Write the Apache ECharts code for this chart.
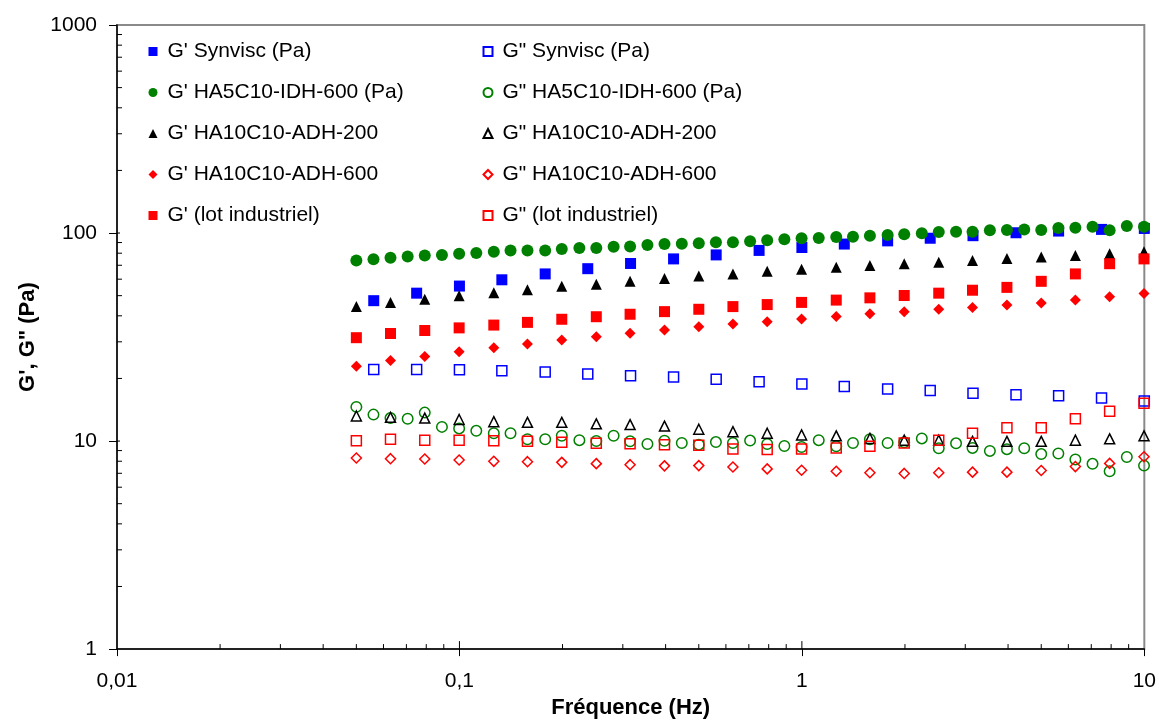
<!DOCTYPE html>
<html><head><meta charset="utf-8">
<script src="https://cdn.jsdelivr.net/npm/echarts@6/dist/echarts.min.js"></script>
<style>html,body{margin:0;padding:0;background:#fff}#chart{width:1159px;height:724px}</style>
</head><body><div id="chart"></div>
<script>
// Frequencies (Hz)
const freqSynvisc = [0.0562, 0.075, 0.1, 0.133, 0.178, 0.237, 0.316, 0.422, 0.562, 0.75, 1, 1.33, 1.78, 2.37, 3.16, 4.22, 5.62, 7.5, 10];
const freqHA5 = [0.05, 0.0561, 0.0629, 0.0706, 0.0792, 0.0889, 0.0998, 0.112, 0.126, 0.141, 0.158, 0.178, 0.199, 0.224, 0.251, 0.282, 0.315, 0.354, 0.397, 0.446, 0.5, 0.561, 0.629, 0.706, 0.792, 0.889, 0.998, 1.12, 1.26, 1.41, 1.58, 1.78, 1.99, 2.24, 2.51, 2.82, 3.15, 3.54, 3.97, 4.46, 5, 5.61, 6.29, 7.06, 7.92, 8.89, 9.98];
const freqADH = [0.05, 0.0629, 0.0792, 0.0998, 0.126, 0.158, 0.199, 0.251, 0.315, 0.397, 0.5, 0.629, 0.792, 0.998, 1.26, 1.58, 1.99, 2.51, 3.15, 3.97, 5, 6.29, 7.92, 9.98];

// G' (Pa)
const gpSynvisc = [47.3, 51.4, 55.6, 59.6, 63.6, 67.4, 71.4, 75.1, 78.5, 82.5, 85.2, 88.5, 91.7, 94.4, 97.1, 100.3, 102.2, 104.1, 105.2];
const gpHA5 = [73.8, 74.8, 76.0, 77.1, 77.9, 78.5, 79.6, 80.2, 81.3, 82.5, 82.5, 82.5, 83.8, 84.7, 84.7, 85.9, 86.2, 87.5, 88.5, 88.8, 89.4, 90.4, 90.4, 91.3, 92.4, 93.4, 94.4, 94.7, 95.7, 96.0, 97.1, 97.9, 98.6, 99.7, 101.1, 101.4, 101.4, 103.0, 103.3, 104.1, 103.3, 105.6, 105.9, 107.1, 103.0, 108.2, 107.1];
const gpADH200 = [44.4, 46.4, 48.1, 49.9, 51.7, 53.4, 55.5, 56.8, 58.6, 60.5, 62.2, 63.6, 65.5, 66.9, 68.4, 69.9, 71.2, 72.4, 73.8, 75.4, 76.8, 77.9, 79.6, 81.3];
const gpADH600 = [22.9, 24.4, 25.5, 26.9, 28.1, 29.3, 30.6, 31.7, 33.0, 34.2, 35.4, 36.5, 37.5, 38.6, 39.7, 40.9, 41.9, 43.0, 43.9, 45.1, 46.1, 47.6, 49.4, 51.2];
const gpLot = [31.4, 32.9, 34.0, 35.0, 36.1, 37.2, 38.5, 39.6, 40.7, 41.9, 43.0, 44.3, 45.3, 46.4, 47.6, 48.8, 50.1, 51.4, 53.1, 54.8, 58.6, 63.6, 71.2, 75.1];

// G" (Pa)
const gsSynvisc = [22.1, 22.1, 22.0, 21.8, 21.5, 21.0, 20.6, 20.3, 19.8, 19.3, 18.8, 18.3, 17.8, 17.5, 17.0, 16.7, 16.5, 16.1, 15.6];
const gsHA5 = [14.6, 13.4, 12.9, 12.8, 13.7, 11.7, 11.5, 11.2, 10.9, 10.9, 10.2, 10.2, 10.6, 10.1, 10.0, 10.6, 9.97, 9.68, 10.03, 9.79, 9.61, 9.89, 9.79, 10.05, 9.68, 9.47, 9.37, 10.1, 9.44, 9.79, 10.2, 9.79, 9.86, 10.3, 9.24, 9.75, 9.27, 8.97, 9.14, 9.24, 8.66, 8.71, 8.16, 7.77, 7.16, 8.38, 7.62];
const gsADH200 = [13.2, 13.0, 12.9, 12.7, 12.4, 12.3, 12.3, 12.1, 12.0, 11.8, 11.4, 11.1, 10.9, 10.7, 10.6, 10.3, 10.1, 10.1, 9.97, 9.97, 9.97, 10.1, 10.25, 10.6];
const gsADH600 = [8.29, 8.23, 8.20, 8.11, 7.99, 7.96, 7.90, 7.79, 7.70, 7.60, 7.62, 7.51, 7.35, 7.24, 7.16, 7.04, 6.99, 7.04, 7.09, 7.09, 7.22, 7.54, 7.81, 8.41];
const gsLot = [10.03, 10.2, 10.1, 10.1, 10.03, 9.97, 9.86, 9.75, 9.71, 9.61, 9.54, 9.17, 9.1, 9.17, 9.27, 9.44, 9.79, 10.1, 10.9, 11.6, 11.6, 12.8, 13.9, 15.2];

// Series names
const namesGp = ["G' Synvisc (Pa)", "G' HA5C10-IDH-600 (Pa)", "G' HA10C10-ADH-200", "G' HA10C10-ADH-600", "G' (lot industriel)"];
const namesGs = ['G" Synvisc (Pa)', 'G" HA5C10-IDH-600 (Pa)', 'G" HA10C10-ADH-200', 'G" HA10C10-ADH-600', 'G" (lot industriel)'];

// Axis tick values
const xMinorTicks = [0.02,0.03,0.04,0.05,0.06,0.07,0.08,0.09,0.2,0.3,0.4,0.5,0.6,0.7,0.8,0.9,2,3,4,5,6,7,8,9];
const xMajorTicks = [0.1, 1];
const yMinorTicks = [2,3,4,5,6,7,8,9,20,30,40,50,60,70,80,90,200,300,400,500,600,700,800,900];
const yMajorTicks = [10, 100];

const FONT = "'Liberation Sans', Arial, sans-serif";
const BLUE = '#0000FF', GREEN = '#008000', BLACK = '#000000', RED = '#FF0000';

function pairs(fr, vals) { return vals.map((v, i) => [fr[i], v]); }
function sc(name, fr, vals, symbol, color, filled, size) {
  return {
    name, type: 'scatter', data: pairs(fr, vals), symbol, symbolSize: size,
    itemStyle: filled ? { color: color, opacity: 1 } : { color: 'rgba(0,0,0,0)', borderColor: color, borderWidth: 1.5, opacity: 1 },
    emphasis: { disabled: true }, silent: true
  };
}

const series = [
  sc(namesGp[0], freqSynvisc, gpSynvisc, 'rect', BLUE, true, 11),
  sc(namesGs[0], freqSynvisc, gsSynvisc, 'rect', BLUE, false, 10),
  sc(namesGp[1], freqHA5, gpHA5, 'circle', GREEN, true, 12),
  sc(namesGs[1], freqHA5, gsHA5, 'circle', GREEN, false, 10.5),
  sc(namesGp[2], freqADH, gpADH200, 'triangle', BLACK, true, 11),
  sc(namesGs[2], freqADH, gsADH200, 'triangle', BLACK, false, 10),
  sc(namesGp[3], freqADH, gpADH600, 'diamond', RED, true, 11),
  sc(namesGs[3], freqADH, gsADH600, 'diamond', RED, false, 10),
  sc(namesGp[4], freqADH, gpLot, 'rect', RED, true, 11),
  sc(namesGs[4], freqADH, gsLot, 'rect', RED, false, 10),
  {
    type: 'custom', silent: true, z: 5,
    data: xMinorTicks.map(v => [v, 1, 5]).concat(xMajorTicks.map(v => [v, 1, 8])),
    renderItem: function (params, api) {
      const p = api.coord([api.value(0), api.value(1)]);
      const len = api.value(2);
      return { type: 'line', shape: { x1: p[0], y1: p[1], x2: p[0], y2: p[1] - len }, style: { stroke: '#000', lineWidth: 1 } };
    }
  },
  {
    type: 'custom', silent: true, z: 5,
    data: yMinorTicks.map(v => [0.01, v, 5]).concat(yMajorTicks.map(v => [0.01, v, 3])),
    renderItem: function (params, api) {
      const p = api.coord([api.value(0), api.value(1)]);
      const len = api.value(2);
      return { type: 'line', shape: { x1: p[0], y1: p[1], x2: p[0] + len, y2: p[1] }, style: { stroke: '#000', lineWidth: 1 } };
    }
  }
];

const legendBase = {
  orient: 'vertical', top: 41, padding: 0, itemWidth: 9, itemHeight: 9, itemGap: 20,
  selectedMode: false,
  textStyle: { fontFamily: FONT, fontSize: 21, lineHeight: 21, color: '#000', padding: [0, 0, 0, 5] }
};

const fmt = v => String(Number(v.toPrecision(6))).replace('.', ',');

const option = {
  animation: false,
  backgroundColor: '#fff',
  grid: { left: 117, right: 14, top: 25, bottom: 63, show: true, borderColor: '#8a8a8a', borderWidth: 2, backgroundColor: 'rgba(0,0,0,0)' },
  legend: [
    Object.assign({}, legendBase, { left: 148.5, data: namesGp }),
    Object.assign({}, legendBase, { left: 482.5, data: namesGs })
  ],
  xAxis: {
    type: 'log', logBase: 10, min: 0.01, max: 10,
    name: 'Fréquence (Hz)', nameLocation: 'middle', nameGap: 40,
    nameTextStyle: { fontFamily: FONT, fontSize: 22, fontWeight: 'bold', color: '#000' },
    axisLine: { onZero: false, lineStyle: { color: '#000', width: 1.5 } },
    axisTick: { show: true, length: 7, lineStyle: { color: '#000', width: 1 } },
    axisLabel: { fontFamily: FONT, fontSize: 21, color: '#000', margin: 22, formatter: fmt, showMinLabel: true, showMaxLabel: true },
    splitLine: { show: false }, minorTick: { show: false }
  },
  yAxis: {
    type: 'log', logBase: 10, min: 1, max: 1000,
    name: 'G\', G" (Pa)', nameLocation: 'middle', nameGap: 78, nameRotate: 90,
    nameTextStyle: { fontFamily: FONT, fontSize: 22, fontWeight: 'bold', color: '#000' },
    axisLine: { onZero: false, lineStyle: { color: '#000', width: 1.5 } },
    axisTick: { show: true, length: 8, lineStyle: { color: '#000', width: 1 } },
    axisLabel: { fontFamily: FONT, fontSize: 21, color: '#000', margin: 20, formatter: fmt, showMinLabel: true, showMaxLabel: true },
    splitLine: { show: false }, minorTick: { show: false }
  },
  series
};

const chart = echarts.init(document.getElementById('chart'), null, { renderer: 'canvas' });
chart.setOption(option);
</script>
</body></html>
